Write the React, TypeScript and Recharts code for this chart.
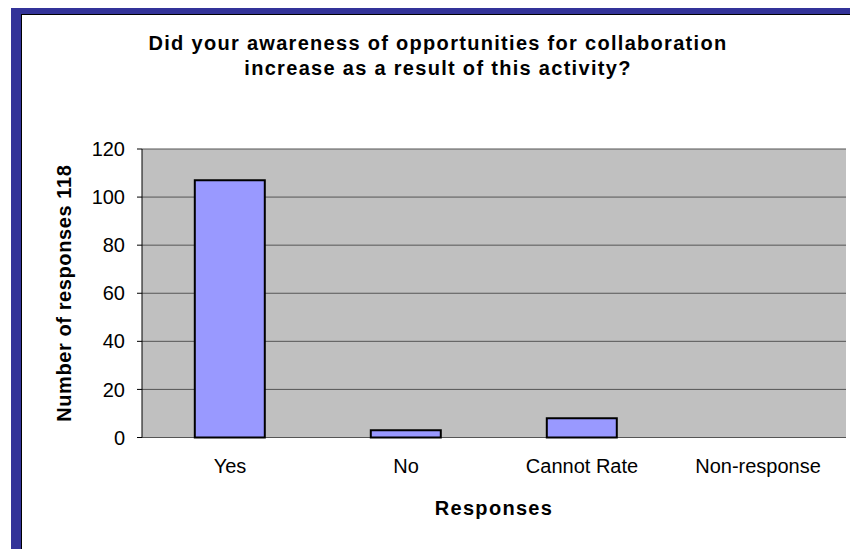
import { BarChart, Bar, XAxis, YAxis, CartesianGrid, Label } from "recharts";

const categories = ["Yes", "No", "Cannot Rate", "Non-response"];
const responses = [107, 3, 8, 0];
const yTicks = [0, 20, 40, 60, 80, 100, 120];
const edgeTicks = [0, 1, 2, 3, 4];

const data = categories.map((name, i) => ({ name, value: responses[i], pos: i + 0.5 }));

const FONT = "'Liberation Sans', Arial, sans-serif";

const YTitle = ({ viewBox }: any) => {
  const cx = 64;
  const cy = viewBox.y + viewBox.height / 2;
  return (
    <text
      x={cx}
      y={cy}
      transform={`rotate(-90 ${cx} ${cy})`}
      textAnchor="middle"
      dominantBaseline="central"
      fontWeight="bold"
      fontSize={20}
      letterSpacing={0.6}
      fill="#000"
      fontFamily={FONT}
    >
      Number of responses 118
    </text>
  );
};

export default function App() {
  return (
    <div style={{ position: "relative", margin: -8, width: 858, height: 557, overflow: "hidden", background: "#fff" }}>
      {/* blue frame */}
      <div style={{ position: "absolute", left: 11, top: 4, width: 900, height: 600, background: "#333399" }} />
      <div
        style={{
          position: "absolute",
          left: 21,
          top: 14,
          width: 900,
          height: 537,
          background: "#fff",
          border: "1px solid #000",
        }}
      />
      <div
        style={{
          position: "absolute",
          left: 138,
          top: 31,
          width: 600,
          textAlign: "center",
          fontFamily: FONT,
          fontWeight: "bold",
          fontSize: 20,
          letterSpacing: 1.3,
          lineHeight: "25px",
          color: "#000",
        }}
      >
        Did your awareness of opportunities for collaboration
        <br />
        increase as a result of this activity?
      </div>
      <div style={{ position: "absolute", left: 0, top: 0 }}>
        <BarChart
          width={858}
          height={557}
          data={data}
          margin={{ top: 149, right: 12, left: 0, bottom: 0 }}
          barCategoryGap="30%"
          style={{ fontFamily: FONT }}
        >
          <CartesianGrid
            vertical={false}
            horizontal
            fill="#C0C0C0"
            fillOpacity={1}
            stroke="#555555"
            strokeWidth={1}
            yAxisId="left"
          />
          <XAxis
            xAxisId="edges"
            type="number"
            dataKey="pos"
            domain={[0, 4]}
            ticks={edgeTicks}
            tick={false}
            tickSize={5}
            height={0}
            axisLine={{ stroke: "#000" }}
            tickLine={{ stroke: "#000" }}
          />
          <XAxis
            dataKey="name"
            xAxisId="cat"
            height={119.5}
            axisLine={false}
            tickLine={false}
            tickMargin={15}
            tick={{ fill: "#000", fontSize: 20 }}
          >
            <Label
              value="Responses"
              position="insideBottom"
              offset={42}
              fontWeight="bold"
              fontSize={20}
              letterSpacing={1.3}
              fill="#000"
            />
          </XAxis>
          <YAxis
            yAxisId="left"
            domain={[0, 120]}
            ticks={yTicks}
            width={142}
            tickSize={5}
            tickMargin={12}
            axisLine={{ stroke: "#000" }}
            tickLine={{ stroke: "#000" }}
            tick={{ fill: "#000", fontSize: 20 }}
          >
            <Label content={<YTitle />} />
          </YAxis>
          <YAxis
            yAxisId="right"
            orientation="right"
            domain={[0, 120]}
            width={0}
            tick={false}
            tickLine={false}
            axisLine={{ stroke: "#808080" }}
          />
          <Bar
            dataKey="value"
            xAxisId="cat"
            yAxisId="left"
            fill="#9999FF"
            stroke="#000"
            strokeWidth={2}
            isAnimationActive={false}
          />
        </BarChart>
      </div>
    </div>
  );
}
